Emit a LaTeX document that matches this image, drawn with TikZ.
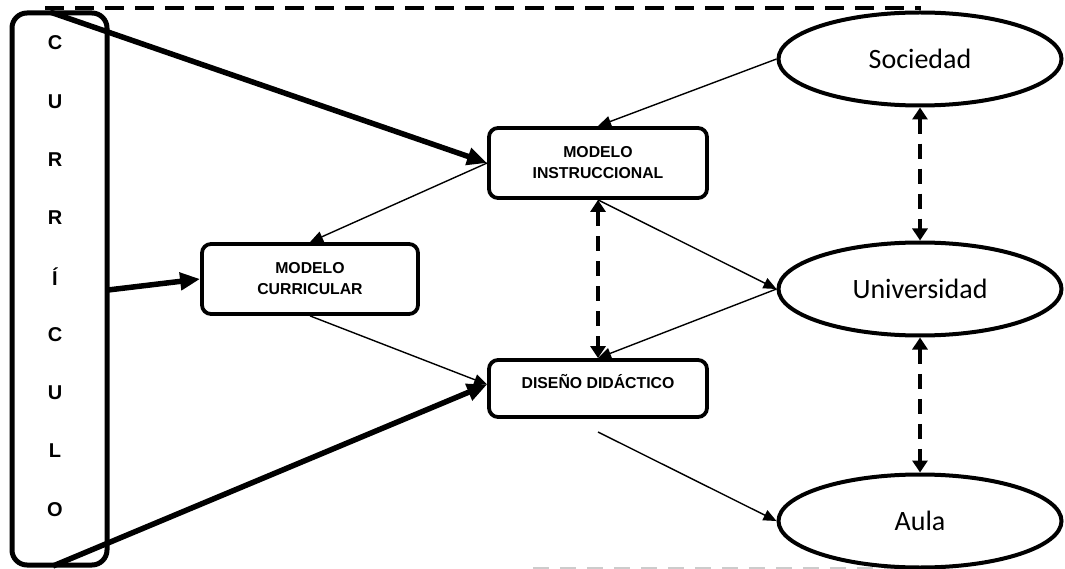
\documentclass[tikz,border=0pt]{standalone}
\usepackage{fontspec}
\setmainfont{Liberation Sans}
\newfontfamily\calib{Carlito}
\usetikzlibrary{arrows.meta,shapes.geometric}
\tikzset{
  boxnode/.style={draw, line width=3.8pt, rounded corners=9pt, align=center,
    font=\fontsize{15.8}{21}\selectfont\bfseries, inner sep=0pt},
  ellnode/.style={draw, ellipse, line width=4pt, minimum width=283pt, minimum height=93pt,
    inner sep=0pt, font=\calib\fontsize{28}{32}\selectfont},
  letter/.style={font=\fontsize{20}{22}\selectfont\bfseries, inner sep=0pt},
  thickarrow/.style={line width=5.5pt, -{Triangle[length=20pt,width=17pt]}},
  thinarrow/.style={line width=1.4pt, -{Triangle[length=13pt,width=11pt]}},
  dasharrow/.style={line width=4pt, dash pattern=on 15pt off 10pt,
    {Triangle[length=12pt,width=15pt]}-{Triangle[length=12pt,width=15pt]}},
}
\begin{document}
\begin{tikzpicture}[x=1pt,y=-1pt]
\useasboundingbox (0,0) rectangle (1065,569);
% curriculum box
\node[draw, line width=5pt, rounded corners=15pt, minimum width=95pt, minimum height=552pt, inner sep=0pt]
  (cur) at (59.5,289) {};
\foreach \L [count=\i] in {C,U,R,R,Í,C,U,L,O}{
  \node[letter] (let\i) at (55, {43+58.3*(\i-1)}) {\L};
}
% top dashed line
\coordinate (tl) at (45,8);
\coordinate (tr) at (921,8);
\draw[line width=3.8pt, dash pattern=on 19pt off 11pt] (tl) -- (tr);
% bottom grey dashed line
\coordinate (bl) at (533,567.5);
\coordinate (br) at (925,567.5);
\draw[line width=2pt, gray!40, dash pattern=on 16pt off 11pt] (bl) -- (br);
% boxes
\node[boxnode, minimum width=218pt, minimum height=70pt] (mi) at (598,163) {MODELO\\INSTRUCCIONAL};
\node[boxnode, minimum width=216pt, minimum height=70pt] (mc) at (310,279) {MODELO\\CURRICULAR};
\node[boxnode, minimum width=218pt, minimum height=57pt, text height=8pt, text depth=8pt] (dd) at (598,388.5) {DISEÑO DIDÁCTICO};
% ellipses
\node[ellnode, fill=white] (soc) at (920,59) {Sociedad};
\node[ellnode] (uni) at (920,289) {Universidad};
\node[ellnode, fill=white] (aula) at (920,521) {Aula};
% thick arrows
\coordinate (c1) at (50,12);
\coordinate (c2) at (108,290);
\coordinate (c3) at (53,566);
\draw[thickarrow] (c1) -- (mi.west);
\draw[thickarrow] (c2) -- (mc.west);
\draw[thickarrow] (c3) -- ([yshift=4pt]dd.west);
% thin arrows
\draw[thinarrow] (soc.west) -- (mi.north);
\draw[thinarrow] (mi.west) -- (mc.north);
\draw[thinarrow] (mc.south) -- ([yshift=4pt]dd.west);
\draw[thinarrow] (mi.south) -- (uni.west);
\draw[thinarrow] (uni.west) -- (dd.north);
\coordinate (ddb) at (598,432);
\draw[thinarrow] (ddb) -- (aula.west);
% dashed double arrows
\draw[dasharrow] (mi.south) -- (dd.north);
\draw[dasharrow] (soc.south) -- (uni.north);
\draw[dasharrow] (uni.south) -- (aula.north);
\end{tikzpicture}
\end{document}
